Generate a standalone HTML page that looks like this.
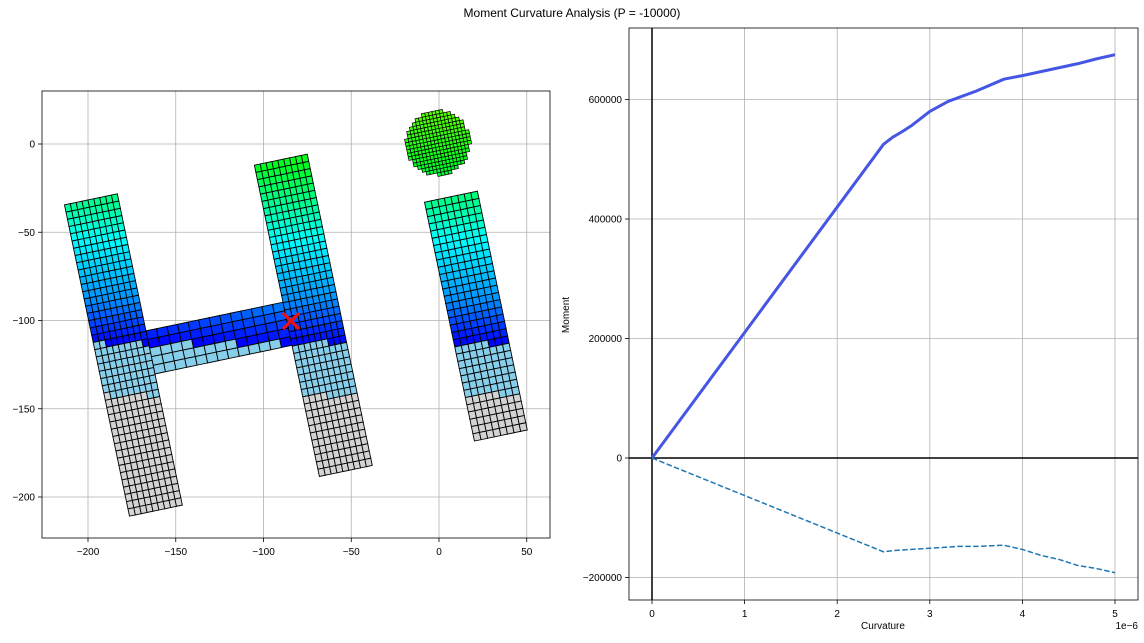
<!DOCTYPE html>
<html><head><meta charset="utf-8"><style>
body{margin:0;background:#fff;font-family:"Liberation Sans",sans-serif}
svg text{font-family:"Liberation Sans",sans-serif;font-size:10px;fill:#000}
</style></head><body>
<svg id="fig" width="1144" height="638" xmlns="http://www.w3.org/2000/svg">
<rect width="1144" height="638" fill="#fff"/>
<text x="572" y="17" text-anchor="middle" style="font-size:12px">Moment Curvature Analysis (P = -10000)</text>
<g id="left"></g>
<g id="right"></g>
</svg>
<script>
const NS="http://www.w3.org/2000/svg";
function mk(tag,attrs,parent){const e=document.createElementNS(NS,tag);for(const k in attrs)e.setAttribute(k,attrs[k]);parent.appendChild(e);return e;}

// ===== Left: section plot =====
const secXTicks=[-200,-150,-100,-50,0,50];
const secYTicks=[0,-50,-100,-150,-200];
const L=document.getElementById('left');
const lx0=42,lx1=550,ly0=91,ly1=538;
function sx(v){return 439+v*1.755;}
function sy(v){return 144-v*1.765;}
mk('rect',{x:lx0,y:ly0,width:lx1-lx0,height:ly1-ly0,fill:'#fff'},L);
const lg=mk('g',{},L);


secXTicks.forEach(t=>{mk('line',{x1:sx(t),x2:sx(t),y1:ly0,y2:ly1,stroke:'#b0b0b0','stroke-width':0.8},lg);
 mk('line',{x1:sx(t),x2:sx(t),y1:ly1,y2:ly1+4,stroke:'#000','stroke-width':0.8},L);
 const tx=mk('text',{x:sx(t),y:ly1+17,'text-anchor':'middle'},L);tx.textContent=t<0?'\u2212'+(-t):t;
 });
secYTicks.forEach(t=>{mk('line',{y1:sy(t),y2:sy(t),x1:lx0,x2:lx1,stroke:'#b0b0b0','stroke-width':0.8},lg);
 mk('line',{y1:sy(t),y2:sy(t),x1:lx0-4,x2:lx0,stroke:'#000','stroke-width':0.8},L);
 const tx=mk('text',{x:lx0-7,y:sy(t)+3.5,'text-anchor':'end'},L);tx.textContent=t<0?'\u2212'+(-t):t;
 });

const ox=291,oy=321,th=-11.8*Math.PI/180,c=Math.cos(th),s=Math.sin(th);
function gl(x,y){return [ox+x*c-y*s, oy+x*s+y*c];}
function lerp(a,b,t){return a+(b-a)*t;}
const stops=[[110,[96,255,0]],[165,[0,255,32]],[240,[0,255,255]],[300,[0,144,255]],[343,[0,0,255]]];
function colorAt(gy){
 if(gy>395)return '#d3d3d3';
 if(gy>343)return '#87ceeb';
 if(gy<=stops[0][0])return 'rgb(96,255,0)';
 for(let i=0;i<stops.length-1;i++){const a=stops[i],b=stops[i+1];
  if(gy<=b[0]){const t=(gy-a[0])/(b[0]-a[0]);return 'rgb('+a[1].map((v,k)=>Math.round(lerp(v,b[1][k],t))).join(',')+')';}}
 return '#0000ff';
}
const cells=mk('g',{stroke:'#000','stroke-width':0.9},L);


function region(x0,x1,y0,y1,nc,nr,name){
 const g=mk('g',{},cells);
 
 
 const w=(x1-x0)/nc,h=(y1-y0)/nr;
 for(let i=0;i<nc;i++)for(let j=0;j<nr;j++){
  const a=x0+i*w,b=y0+j*h;
  const pts=[[a,b],[a+w,b],[a+w,b+h],[a,b+h]].map(p=>gl(p[0],p[1]));
  const cc=gl(a+w/2,b+h/2);
  mk('polygon',{points:pts.map(p=>p.join(',')).join(' '),fill:colorAt(cc[1])},g);
 }
}
region(-144,-4,-20,24,13,5,'web-fibers');
region(-198,-144,-160,158,9,43,'left-flange-fibers');
region(-4,50,-160,158,9,43,'middle-flange-fibers');
region(155,209,-89,155,8,33,'right-flange-fibers');
// circle
const cg=mk('g',{},cells);


const ccx=180.3,ccy=-144.2,R=32,cs=3.6;
for(let x=-R;x<R;x+=cs)for(let y=-R;y<R;y+=cs){
 const mx=x+cs/2,my=y+cs/2;if(mx*mx+my*my>R*R)continue;
 const pts=[[x,y],[x+cs,y],[x+cs,y+cs],[x,y+cs]].map(p=>gl(ccx+p[0],ccy+p[1]));
 const cc=gl(ccx+mx,ccy+my);
 mk('polygon',{points:pts.map(p=>p.join(',')).join(' '),fill:colorAt(cc[1]),'stroke-width':0.7},cg);
}
const cen=mk('g',{stroke:'#ee1111','stroke-width':3.2},L);


mk('line',{x1:ox-8,y1:oy-8,x2:ox+8,y2:oy+8},cen);mk('line',{x1:ox-8,y1:oy+8,x2:ox+8,y2:oy-8},cen);
mk('rect',{x:lx0,y:ly0,width:lx1-lx0,height:ly1-ly0,fill:'none',stroke:'#000','stroke-width':0.8},L);

// ===== Right: moment-curvature =====
const curvTicks=[0,1,2,3,4,5];
const momTicks=[600000,400000,200000,0,-200000];
const posCurv=[0,2.5,2.6,2.7,2.8,3.0,3.2,3.5,3.8,4.0,4.3,4.6,4.8,5.0];
const posMom=[0,525000,537000,546000,556000,580000,597000,614000,634000,640000,650000,660000,668000,675000];
const negCurv=[0,2.5,2.6,3.0,3.3,3.5,3.8,4.0,4.2,4.4,4.6,4.8,5.0];
const negMom=[0,-157000,-155000,-151000,-148000,-148000,-146000,-153000,-163000,-170000,-180000,-185000,-192000];
const Rg=document.getElementById('right');
const rx0=629,rx1=1138,ry0=28,ry1=600;
function cx(v){return 652+v*92.6;}
function my(v){return 458-v*119.5/200000;}
const rg=mk('g',{},Rg);


curvTicks.forEach(t=>{mk('line',{x1:cx(t),x2:cx(t),y1:ry0,y2:ry1,stroke:'#b0b0b0','stroke-width':0.8},rg);
 mk('line',{x1:cx(t),x2:cx(t),y1:ry1,y2:ry1+4,stroke:'#000','stroke-width':0.8},Rg);
 const tx=mk('text',{x:cx(t),y:ry1+17,'text-anchor':'middle'},Rg);tx.textContent=t;
 });
momTicks.forEach(t=>{mk('line',{y1:my(t),y2:my(t),x1:rx0,x2:rx1,stroke:'#b0b0b0','stroke-width':0.8},rg);
 mk('line',{y1:my(t),y2:my(t),x1:rx0-4,x2:rx0,stroke:'#000','stroke-width':0.8},Rg);
 const tx=mk('text',{x:rx0-7,y:my(t)+3.5,'text-anchor':'end'},Rg);tx.textContent=t<0?'\u2212'+(-t):t;
 });
const ax=mk('g',{stroke:'#000','stroke-width':1.5},Rg);


mk('line',{x1:cx(0),x2:cx(0),y1:ry0,y2:ry1},ax);mk('line',{x1:rx0,x2:rx1,y1:my(0),y2:my(0)},ax);
const pl=mk('polyline',{points:posCurv.map((v,i)=>cx(v)+','+my(posMom[i])).join(' '),fill:'none',stroke:'#4656e4','stroke-width':3,'stroke-linejoin':'round'},Rg);


const nl=mk('polyline',{points:negCurv.map((v,i)=>cx(v)+','+my(negMom[i])).join(' '),fill:'none',stroke:'#1f77b4','stroke-width':1.5,'stroke-dasharray':'5.5,2.4'},Rg);


mk('rect',{x:rx0,y:ry0,width:rx1-rx0,height:ry1-ry0,fill:'none',stroke:'#000','stroke-width':0.8},Rg);
</script>
<svg style="position:absolute;left:0;top:0" width="1144" height="638">
<text x="883" y="629" text-anchor="middle" style="font-family:'Liberation Sans',sans-serif;font-size:10px">Curvature</text>
<text x="1138" y="629" text-anchor="end" style="font-family:'Liberation Sans',sans-serif;font-size:10px">1e−6</text>
<text x="569" y="315" text-anchor="middle" transform="rotate(-90 569 315)" style="font-family:'Liberation Sans',sans-serif;font-size:10px">Moment</text>
</svg>
</body></html>
